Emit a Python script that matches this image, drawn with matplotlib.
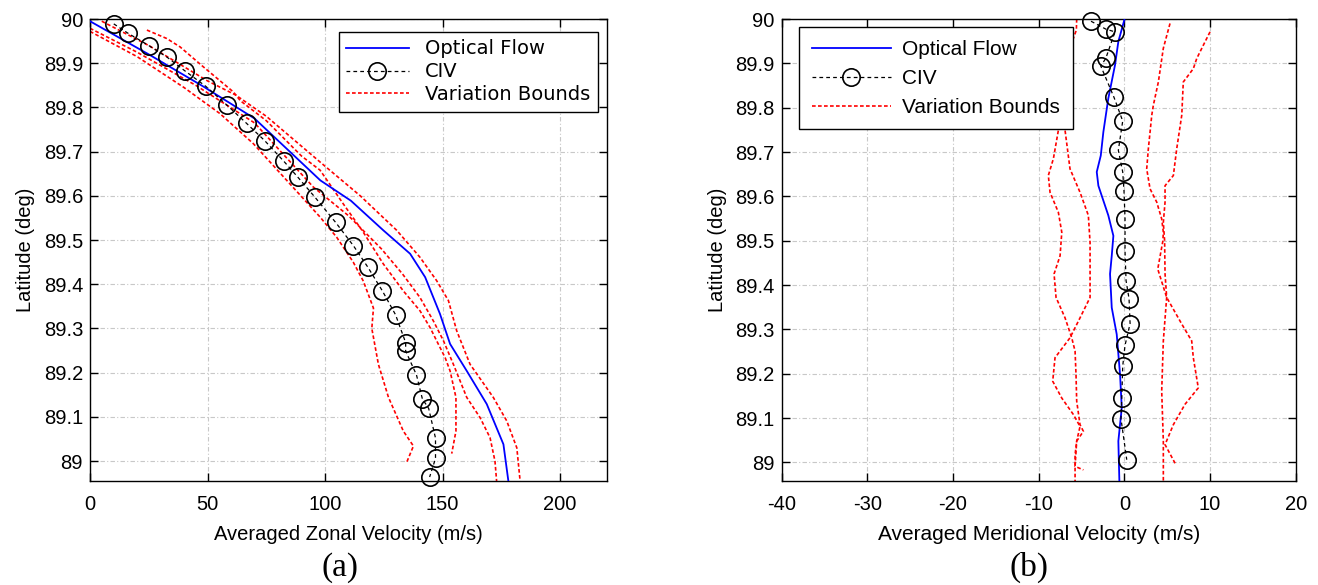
import matplotlib
matplotlib.use("Agg")
import matplotlib.pyplot as plt
from matplotlib.ticker import FuncFormatter

plt.rcParams['font.family'] = ['Liberation Sans', 'DejaVu Sans']
plt.rcParams['axes.unicode_minus'] = False

# ---------------- Zonal velocity panel (a) ----------------
zonal_of_vel = [0, 25, 48, 70, 98, 111, 124.8, 136.2, 142.6, 148.9, 153.2, 160.3, 168.8, 175.9, 178]
zonal_of_lat = [89.995, 89.92, 89.848, 89.775, 89.635, 89.589, 89.522, 89.469, 89.416, 89.333,
                89.265, 89.204, 89.129, 89.038, 88.955]

zonal_civ_vel = [10.1, 16.1, 25.0, 32.7, 40.3, 49.2, 58.1, 66.6, 74.3, 82.5, 88.3, 95.7, 104.5,
                 112.1, 118.3, 124.4, 130.0, 134.3, 134.3, 138.9, 141.4, 144.1, 147.0, 147.0, 144.5]
zonal_civ_lat = [89.989, 89.968, 89.940, 89.914, 89.883, 89.848, 89.806, 89.764, 89.725, 89.678,
                 89.643, 89.597, 89.540, 89.487, 89.438, 89.385, 89.331, 89.268, 89.249, 89.195,
                 89.141, 89.119, 89.052, 89.006, 88.964]

zonal_bound1_vel = [5, 25, 50, 62, 75, 98, 115, 130.5, 140.4, 147.5, 152.5, 156, 161.7, 171.6,
                    177.3, 181.6, 183]
zonal_bound1_lat = [89.995, 89.94, 89.86, 89.828, 89.78, 89.676, 89.60, 89.522, 89.461, 89.408,
                    89.363, 89.295, 89.219, 89.144, 89.091, 89.03, 88.955]

zonal_bound2_vel = [0, 20, 45, 70, 95, 110, 124, 133, 140.4, 146.1, 150.4, 154.6, 160.3, 166,
                    170.2, 172.3, 173]
zonal_bound2_lat = [89.979, 89.925, 89.85, 89.765, 89.62, 89.555, 89.48, 89.423, 89.37, 89.317,
                    89.272, 89.219, 89.144, 89.098, 89.053, 89.0, 88.955]

zonal_bound3_vel = [0, 20, 40, 55.3, 69.5, 83.7, 97.9, 105, 112, 116.3, 120.6, 119.9, 122.7, 127,
                    133.3, 137.6, 134.8]
zonal_bound3_lat = [89.972, 89.915, 89.845, 89.786, 89.718, 89.635, 89.552, 89.506, 89.45, 89.407,
                    89.346, 89.30, 89.219, 89.144, 89.068, 89.034, 88.998]

zonal_bound4_vel = [24.2, 32.6, 38.3, 47.5, 61, 64, 75, 90, 97.9, 108, 116, 124.8, 133.3, 140.4,
                    144.7, 147.5, 151.1, 153.2, 155.7, 155.7, 153.9]
zonal_bound4_lat = [89.975, 89.956, 89.937, 89.895, 89.835, 89.815, 89.77, 89.69, 89.658, 89.58,
                    89.52, 89.446, 89.385, 89.34, 89.302, 89.272, 89.234, 89.204, 89.144, 89.068,
                    89.017]

# ---------------- Meridional velocity panel (b) ----------------
merid_of_vel = [0, -0.7, -1.09, -1.87, -2.45, -2.75, -3.22, -3.03, -1.87, -1.28, -1.47, -1.67,
                -1.47, -0.89, -0.5, -0.30, -0.7, -0.58]
merid_of_lat = [89.998, 89.949, 89.896, 89.821, 89.745, 89.692, 89.655, 89.624, 89.557, 89.511,
                89.466, 89.425, 89.349, 89.289, 89.198, 89.123, 89.048, 88.958]

merid_civ_vel = [-3.89, -2.14, -1.09, -2.17, -2.75, -1.20, -0.19, -0.70, -0.19, -0.04, 0.08, 0.08,
                 0.20, 0.55, 0.67, 0.08, -0.19, -0.30, -0.39, 0.28]
merid_civ_lat = [89.995, 89.977, 89.971, 89.911, 89.894, 89.823, 89.770, 89.704, 89.655, 89.612,
                 89.550, 89.476, 89.410, 89.369, 89.313, 89.264, 89.217, 89.145, 89.098, 89.006]

merid_bound1_vel = [-5.56, -5.6, -7.0, -7.5, -7.70, -8.28, -8.87, -8.67, -7.70, -7.30, -7.50, -8.20,
                    -7.97, -6.92, -6.14, -5.75, -5.64, -5.56, -5.17, -4.78, -5.56, -5.75, -5.75]
merid_bound1_lat = [90.0, 89.975, 89.9, 89.8, 89.749, 89.685, 89.647, 89.609, 89.564, 89.519,
                    89.466, 89.425, 89.372, 89.326, 89.281, 89.251, 89.198, 89.138, 89.085, 89.070,
                    89.048, 89.017, 88.957]

merid_bound2_vel = [-8.0, -7.2, -6.92, -6.34, -5.17, -4.20, -4.00, -4.00, -5.17, -6.34, -8.09,
                    -8.36, -7.30, -5.95, -5.17, -5.56, -5.75, -4.78]
merid_bound2_lat = [89.95, 89.85, 89.749, 89.662, 89.609, 89.557, 89.496, 89.372, 89.326, 89.281,
                    89.236, 89.183, 89.145, 89.108, 89.081, 89.048, 88.991, 88.983]

merid_bound3_vel = [5.33, 4.55, 3.97, 3.38, 3.20, 2.80, 2.61, 3.00, 3.78, 4.36, 4.55, 4.50, 3.90,
                    4.94, 6.70, 7.86, 8.05, 8.63, 7.08, 5.72, 4.75, 5.92]
merid_bound3_lat = [89.990, 89.934, 89.858, 89.805, 89.783, 89.707, 89.662, 89.617, 89.587, 89.549,
                    89.519, 89.5, 89.436, 89.372, 89.312, 89.274, 89.236, 89.168, 89.131, 89.085,
                    89.040, 88.998]

merid_bound4_vel = [10.0, 9.22, 8.45, 8.05, 6.88, 6.70, 6.11, 5.72, 4.75, 4.75, 4.55, 4.70, 4.75,
                    4.94, 4.55, 4.36, 4.55, 4.55]
merid_bound4_lat = [89.971, 89.941, 89.911, 89.888, 89.858, 89.783, 89.707, 89.647, 89.624, 89.587,
                    89.541, 89.5, 89.425, 89.372, 89.274, 89.161, 89.048, 88.957]

legend_labels = ["Optical Flow", "CIV", "Variation Bounds"]
lat_ticks = [89.0, 89.1, 89.2, 89.3, 89.4, 89.5, 89.6, 89.7, 89.8, 89.9, 90.0]
zonal_ticks = [0, 50, 100, 150, 200]
merid_ticks = [-40, -30, -20, -10, 0, 10, 20]

RED_STYLE = dict(color=(1, 0, 0), lw=1.2, ls=(0, (2.2, 1.4)))
BLUE_STYLE = dict(color=(0, 0, 1), lw=1.3, ls='-')
CIV_STYLE = dict(color='black', lw=0.9, ls=(0, (3, 2.5)), marker='o', ms=12.5,
                 mfc='none', mec='black', mew=1.2)

fig = plt.figure(figsize=(13.18, 5.85), dpi=100)
ax_a = fig.add_axes([0.0683, 0.1778, 0.3923, 0.7897])
ax_b = fig.add_axes([0.5930, 0.1778, 0.3901, 0.7897])


def style_axes(ax, xlim, xticks, ylim, tick_size):
    ax.set_xlim(*xlim)
    ax.set_ylim(*ylim)
    ax.set_xticks(xticks)
    ax.set_yticks(lat_ticks)
    ax.yaxis.set_major_formatter(FuncFormatter(lambda v, p: f"{v:g}"))
    ax.grid(True, color='#c8c8c8', lw=0.8, ls=(0, (4, 2, 1, 2)))
    ax.set_axisbelow(True)
    ax.tick_params(direction='in', top=True, right=True, length=6, width=1,
                   labelsize=tick_size)
    ax.tick_params(axis='x', pad=10)
    ax.tick_params(axis='y', pad=5)
    for s in ax.spines.values():
        s.set_linewidth(1.0)
        s.set_color('black')
    ax.set_ylabel("Latitude (deg)", fontsize=14.5, labelpad=6)


# Panel (a)
l_of, = ax_a.plot(zonal_of_vel, zonal_of_lat, **BLUE_STYLE, zorder=3)
for v, la in [(zonal_bound1_vel, zonal_bound1_lat), (zonal_bound2_vel, zonal_bound2_lat),
              (zonal_bound3_vel, zonal_bound3_lat), (zonal_bound4_vel, zonal_bound4_lat)]:
    l_vb, = ax_a.plot(v, la, **RED_STYLE, zorder=2)
l_civ, = ax_a.plot(zonal_civ_vel, zonal_civ_lat, **CIV_STYLE, zorder=4, clip_on=False)
style_axes(ax_a, (0, 220), zonal_ticks, (88.955, 90), 14.5)
ax_a.set_xlabel("Averaged Zonal Velocity (m/s)", fontsize=14.5, labelpad=8)
leg_a = ax_a.legend([l_of, l_civ, l_vb], legend_labels, loc='upper right',
                    bbox_to_anchor=(0.9826, 0.9725), borderaxespad=0,
                    prop={'family': 'DejaVu Sans', 'size': 14},
                    handlelength=3.2, handletextpad=0.85, labelspacing=0.2,
                    fancybox=False, framealpha=1, edgecolor='black', borderpad=0.4)
leg_a.get_frame().set_linewidth(1.0)
leg_a.set_zorder(10)

# Panel (b)
m_of, = ax_b.plot(merid_of_vel, merid_of_lat, **BLUE_STYLE, zorder=3)
for v, la in [(merid_bound1_vel, merid_bound1_lat), (merid_bound2_vel, merid_bound2_lat),
              (merid_bound3_vel, merid_bound3_lat), (merid_bound4_vel, merid_bound4_lat)]:
    m_vb, = ax_b.plot(v, la, **RED_STYLE, zorder=2)
m_civ, = ax_b.plot(merid_civ_vel, merid_civ_lat, **CIV_STYLE, zorder=4, clip_on=False)
style_axes(ax_b, (-40, 20), merid_ticks, (88.958, 90), 14.5)
ax_b.set_xlabel("Averaged Meridional Velocity (m/s)", fontsize=15, labelpad=8)
leg_b = ax_b.legend([m_of, m_civ, m_vb], legend_labels, loc='upper left',
                    bbox_to_anchor=(0.034, 0.982), borderaxespad=0, fontsize=15,
                    handlelength=3.8, handletextpad=0.55, labelspacing=0.48,
                    fancybox=False, framealpha=1, edgecolor='black', borderpad=0.6)
leg_b.get_frame().set_linewidth(1.0)
leg_b.set_zorder(10)

fig.text(0.258, 0.030, "(a)", family='Liberation Serif', fontsize=24, ha='center', va='center')
fig.text(0.781, 0.030, "(b)", family='Liberation Serif', fontsize=24, ha='center', va='center')

fig.savefig("out.png", dpi=100, facecolor='white')
